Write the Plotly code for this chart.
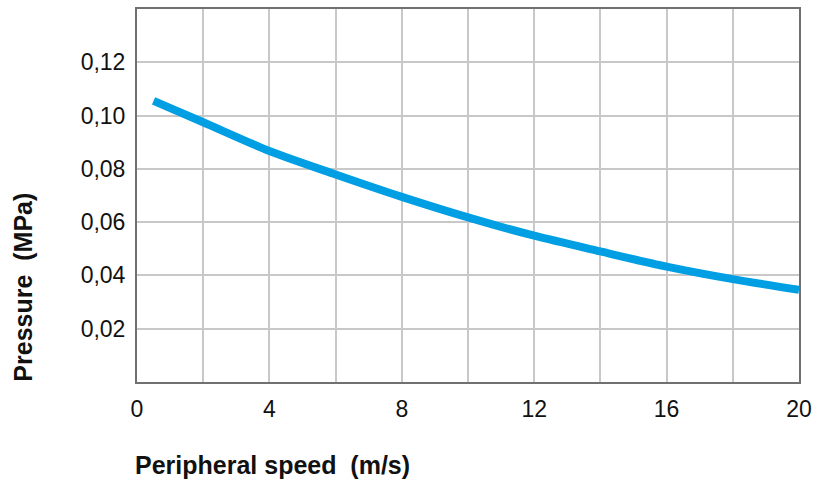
import plotly.graph_objects as go

# Data
speed = [0.5, 2, 4, 6, 8, 10, 12, 14, 16, 18, 20]
pressure = [0.1055, 0.0975, 0.0867, 0.0779, 0.0695, 0.0618, 0.0549, 0.0490, 0.0433, 0.0386, 0.0346]

x_tickvals = [0, 2, 4, 6, 8, 10, 12, 14, 16, 18, 20]
x_ticktext = ["0", "", "4", "", "8", "", "12", "", "16", "", "20"]
y_tickvals = [0.02, 0.04, 0.06, 0.08, 0.10, 0.12]
y_ticktext = ["0,02", "0,04", "0,06", "0,08", "0,10", "0,12"]

FONT = "Liberation Sans, Arial, Helvetica, sans-serif"
W, H = 819, 480
L, R, T, B = 137, 19, 7, 98
pw, ph = W - L - R, H - T - B

fig = go.Figure()
fig.add_trace(go.Scatter(
    x=speed, y=pressure, mode="lines",
    line=dict(color="#009fe3", width=8, shape="spline", smoothing=0.8),
    hoverinfo="skip", showlegend=False,
))

fig.update_layout(
    width=W, height=H,
    margin=dict(l=L, r=R, t=T, b=B, pad=0),
    paper_bgcolor="white", plot_bgcolor="white",
    font=dict(family=FONT, size=23, color="#111111"),
    showlegend=False,
)
fig.update_xaxes(
    range=[0, 20], tickvals=x_tickvals, ticktext=x_ticktext,
    showgrid=True, gridcolor="#c8c8c8", gridwidth=1.5,
    showline=True, mirror=True, linecolor="#707070", linewidth=2,
    ticks="outside", ticklen=5, tickcolor="rgba(0,0,0,0)",
    zeroline=False, tickfont=dict(size=23),
)
fig.update_yaxes(
    range=[0, 0.14], tickvals=y_tickvals, ticktext=y_ticktext,
    showgrid=True, gridcolor="#c8c8c8", gridwidth=1.5,
    showline=True, mirror=True, linecolor="#707070", linewidth=2,
    ticks="outside", ticklen=5, tickcolor="rgba(0,0,0,0)",
    zeroline=False, tickfont=dict(size=23),
)

def px_x(p):
    return (p - L) / pw

def px_y(p):
    return (H - B - p) / ph

fig.add_annotation(
    text="<b>Peripheral speed  (m/s)</b>", xref="paper", yref="paper",
    x=px_x(133), y=px_y(465), xanchor="left", yanchor="middle",
    showarrow=False, font=dict(family=FONT, size=25, color="#111111"),
)
fig.add_annotation(
    text="<b>Pressure  (MPa)</b>", xref="paper", yref="paper",
    x=px_x(22), y=px_y(287), xanchor="center", yanchor="middle",
    textangle=-90, showarrow=False, font=dict(family=FONT, size=25, color="#111111"),
)

fig.write_html(
    "out.html",
    config={"displayModeBar": False},
    post_script="document.body.style.margin='0';document.body.style.overflow='hidden';",
)
